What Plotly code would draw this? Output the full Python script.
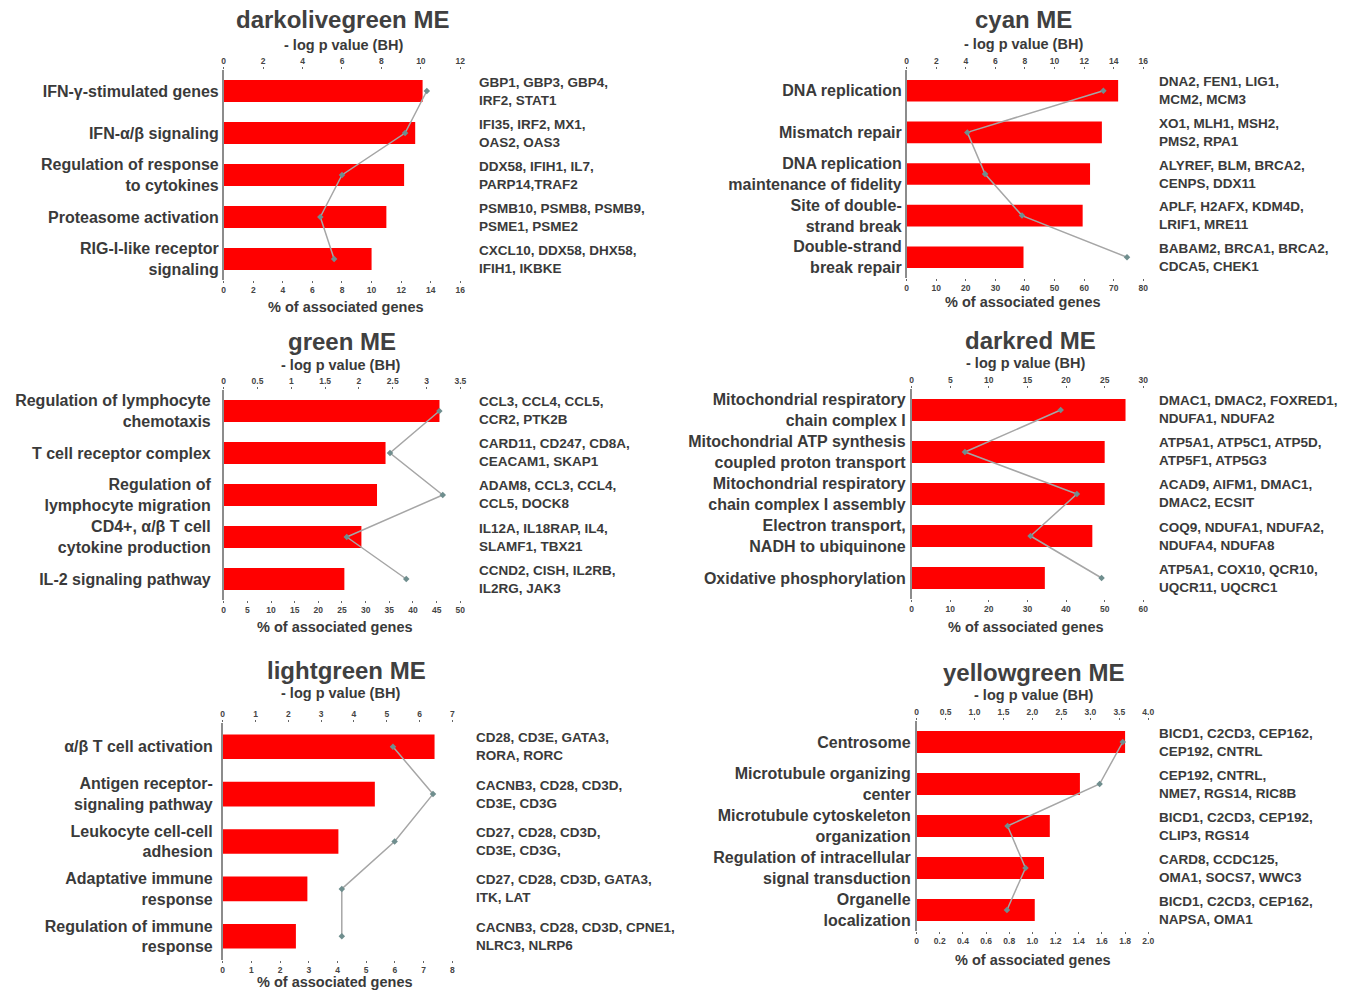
import plotly.graph_objects as go

W, H = 1368, 992

# ---------------- data ----------------
titles = ["darkolivegreen ME", "cyan ME", "green ME", "darkred ME", "lightgreen ME", "yellowgreen ME"]

terms_darkolivegreen = ["IFN-γ-stimulated genes", "IFN-α/β signaling", "Regulation of response<br>to cytokines",
                        "Proteasome activation", "RIG-I-like receptor<br>signaling"]
pct_darkolivegreen = [13.45, 12.95, 12.2, 11.0, 10.0]
logp_darkolivegreen = [10.3, 9.2, 6.0, 4.9, 5.6]
genes_darkolivegreen = ["GBP1, GBP3, GBP4,<br>IRF2, STAT1", "IFI35, IRF2, MX1,<br>OAS2, OAS3",
                        "DDX58, IFIH1, IL7,<br>PARP14,TRAF2", "PSMB10, PSMB8, PSMB9,<br>PSME1, PSME2",
                        "CXCL10, DDX58, DHX58,<br>IFIH1, IKBKE"]

terms_cyan = ["DNA replication", "Mismatch repair", "DNA replication<br>maintenance of fidelity",
              "Site of double-<br>strand break", "Double-strand<br>break repair"]
pct_cyan = [71.5, 66.0, 62.0, 59.5, 39.5]
logp_cyan = [13.3, 4.1, 5.3, 7.8, 14.9]
genes_cyan = ["DNA2, FEN1, LIG1,<br>MCM2, MCM3", "XO1, MLH1, MSH2,<br>PMS2, RPA1",
              "ALYREF, BLM, BRCA2,<br>CENPS, DDX11", "APLF, H2AFX, KDM4D,<br>LRIF1, MRE11",
              "BABAM2, BRCA1, BRCA2,<br>CDCA5, CHEK1"]

terms_green = ["Regulation of lymphocyte<br>chemotaxis", "T cell receptor complex", "Regulation of<br>lymphocyte migration",
               "CD4+, α/β T cell<br>cytokine production", "IL-2 signaling pathway"]
pct_green = [45.6, 34.2, 32.4, 29.1, 25.5]
logp_green = [3.19, 2.46, 3.24, 1.82, 2.70]
genes_green = ["CCL3, CCL4, CCL5,<br>CCR2, PTK2B", "CARD11, CD247, CD8A,<br>CEACAM1, SKAP1",
               "ADAM8, CCL3, CCL4,<br>CCL5, DOCK8", "IL12A, IL18RAP, IL4,<br>SLAMF1, TBX21",
               "CCND2, CISH, IL2RB,<br>IL2RG, JAK3"]

terms_darkred = ["Mitochondrial respiratory<br>chain complex I", "Mitochondrial ATP synthesis<br>coupled proton transport",
                 "Mitochondrial respiratory<br>chain complex I assembly", "Electron transport,<br>NADH to ubiquinone",
                 "Oxidative phosphorylation"]
pct_darkred = [55.4, 50.0, 50.0, 46.8, 34.5]
logp_darkred = [19.3, 6.9, 21.4, 15.4, 24.6]
genes_darkred = ["DMAC1, DMAC2, FOXRED1,<br>NDUFA1, NDUFA2", "ATP5A1, ATP5C1, ATP5D,<br>ATP5F1, ATP5G3",
                 "ACAD9, AIFM1, DMAC1,<br>DMAC2, ECSIT", "COQ9, NDUFA1, NDUFA2,<br>NDUFA4, NDUFA8",
                 "ATP5A1, COX10, QCR10,<br>UQCR11, UQCRC1"]

terms_lightgreen = ["α/β T cell activation", "Antigen receptor-<br>signaling pathway", "Leukocyte cell-cell<br>adhesion",
                    "Adaptative immune<br>response", "Regulation of immune<br>response"]
pct_lightgreen = [7.38, 5.30, 4.03, 2.95, 2.55]
logp_lightgreen = [5.19, 6.41, 5.24, 3.63, 3.63]
genes_lightgreen = ["CD28, CD3E, GATA3,<br>RORA, RORC", "CACNB3, CD28, CD3D,<br>CD3E, CD3G",
                    "CD27, CD28, CD3D,<br>CD3E, CD3G,", "CD27, CD28, CD3D, GATA3,<br>ITK, LAT",
                    "CACNB3, CD28, CD3D, CPNE1,<br>NLRC3, NLRP6"]

terms_yellowgreen = ["Centrosome", "Microtubule organizing<br>center", "Microtubule cytoskeleton<br>organization",
                     "Regulation of intracellular<br>signal transduction", "Organelle<br>localization"]
pct_yellowgreen = [1.80, 1.41, 1.15, 1.10, 1.02]
logp_yellowgreen = [3.56, 3.16, 1.57, 1.88, 1.56]
genes_yellowgreen = ["BICD1, C2CD3, CEP162,<br>CEP192, CNTRL", "CEP192, CNTRL,<br>NME7, RGS14, RIC8B",
                     "BICD1, C2CD3, CEP192,<br>CLIP3, RGS14", "CARD8, CCDC125,<br>OMA1, SOCS7, WWC3",
                     "BICD1, C2CD3, CEP162,<br>NAPSA, OMA1"]

# tick labels: top axis (-log p) and bottom axis (% of genes)
top_ticks_darkolivegreen = ["0", "2", "4", "6", "8", "10", "12"]
bot_ticks_darkolivegreen = ["0", "2", "4", "6", "8", "10", "12", "14", "16"]
top_ticks_cyan = ["0", "2", "4", "6", "8", "10", "12", "14", "16"]
bot_ticks_cyan = ["0", "10", "20", "30", "40", "50", "60", "70", "80"]
top_ticks_green = ["0", "0.5", "1", "1.5", "2", "2.5", "3", "3.5"]
bot_ticks_green = ["0", "5", "10", "15", "20", "25", "30", "35", "40", "45", "50"]
top_ticks_darkred = ["0", "5", "10", "15", "20", "25", "30"]
bot_ticks_darkred = ["0", "10", "20", "30", "40", "50", "60"]
top_ticks_lightgreen = ["0", "1", "2", "3", "4", "5", "6", "7"]
bot_ticks_lightgreen = ["0", "1", "2", "3", "4", "5", "6", "7", "8"]
top_ticks_yellowgreen = ["0", "0.5", "1.0", "1.5", "2.0", "2.5", "3.0", "3.5", "4.0"]
bot_ticks_yellowgreen = ["0", "0.2", "0.4", "0.6", "0.8", "1.0", "1.2", "1.4", "1.6", "1.8", "2.0"]

panels = [
    (terms_darkolivegreen, pct_darkolivegreen, logp_darkolivegreen, genes_darkolivegreen,
     top_ticks_darkolivegreen, bot_ticks_darkolivegreen),
    (terms_cyan, pct_cyan, logp_cyan, genes_cyan, top_ticks_cyan, bot_ticks_cyan),
    (terms_green, pct_green, logp_green, genes_green, top_ticks_green, bot_ticks_green),
    (terms_darkred, pct_darkred, logp_darkred, genes_darkred, top_ticks_darkred, bot_ticks_darkred),
    (terms_lightgreen, pct_lightgreen, logp_lightgreen, genes_lightgreen, top_ticks_lightgreen, bot_ticks_lightgreen),
    (terms_yellowgreen, pct_yellowgreen, logp_yellowgreen, genes_yellowgreen, top_ticks_yellowgreen, bot_ticks_yellowgreen),
]

# ---------------- layout geometry (pixels) ----------------
# plot box per panel: x0, x1, y_top, y_bottom
boxes = [
    (223, 461, 70, 280),
    (910, 1148, 70, 278),
    (223, 461, 390, 600),
    (915, 1148, 389, 599),
    (222, 453, 723, 960),
    (920, 1153, 721, 931),
]
title_pos = [(343, 20), (1028, 20), (342, 341), (1035, 340), (347, 670), (1038, 672)]
sub_pos = [(344, 45), (1028, 44), (340, 365), (1030, 363), (340, 693), (1038, 695)]
xlab_pos = [(346, 307), (1027, 302), (335, 627), (1030, 627), (335, 982), (1037, 960)]
gene_x = [478, 1162, 478, 1162, 475, 1162]
label_gap = [0, 0, 8, 1, 5, 1]


def fx(px):
    return px / W


def fy(py):
    return 1 - py / H


TXT = "#3a3a3a"
FONT = "Liberation Sans"

fig = go.Figure()
layout = {}
annotations = []

for i, (terms, pct, logp, genes, tticks, bticks) in enumerate(panels):
    n = i + 1
    kb, kt = 2 * n - 1, 2 * n
    xb = "x" if kb == 1 else f"x{kb}"
    xt = f"x{kt}"
    yy = "y" if n == 1 else f"y{n}"
    x0, x1, y0, y1 = boxes[i]

    # bars: % of associated genes (bottom axis)
    fig.add_trace(go.Bar(x=pct, y=terms, orientation="h", width=0.52,
                         marker=dict(color="#ff0000", line=dict(width=0)),
                         xaxis=xb, yaxis=yy, showlegend=False))
    # line: -log p value (top axis)
    fig.add_trace(go.Scatter(x=logp, y=terms, mode="lines+markers",
                             line=dict(color="#a6a6a6", width=1.5),
                             marker=dict(color="#6f8e8e", size=5, symbol="diamond"),
                             xaxis=xt, yaxis=yy, showlegend=False))

    tick_common = dict(showgrid=False, zeroline=False, showline=False,
                       ticks="outside", ticklen=2, tickwidth=1, tickcolor="#666",
                       tickfont=dict(family=FONT, size=8.5, color="#444", weight="bold"),
                       fixedrange=True)
    bvals = [float(t) for t in bticks]
    tvals = [float(t) for t in tticks]
    layout["xaxis" if kb == 1 else f"xaxis{kb}"] = dict(
        domain=[fx(x0), fx(x1)], anchor=yy, side="bottom",
        range=[0, bvals[-1]], tickvals=bvals, ticktext=bticks, **tick_common)
    layout[f"xaxis{kt}"] = dict(
        domain=[fx(x0), fx(x1)], anchor=yy, side="top", overlaying=xb,
        range=[0, tvals[-1]], tickvals=tvals, ticktext=tticks, **tick_common)
    layout["yaxis" if n == 1 else f"yaxis{n}"] = dict(
        domain=[fy(y1), fy(y0)], anchor=xb, type="category",
        range=[len(terms) - 0.5, -0.5], showgrid=False, zeroline=False,
        showline=True, linecolor="#8c8c8c", linewidth=1.5, ticks="",
        ticklabelstandoff=label_gap[i],
        tickfont=dict(family=FONT, size=16, color=TXT, weight="bold"), fixedrange=True)

    tx, ty = title_pos[i]
    annotations.append(dict(text=titles[i], x=fx(tx), y=fy(ty), xref="paper", yref="paper",
                            xanchor="center", yanchor="middle", showarrow=False,
                            font=dict(family=FONT, size=24, color="#404040", weight="bold")))
    sx, sy = sub_pos[i]
    annotations.append(dict(text="- log p value (BH)", x=fx(sx), y=fy(sy), xref="paper", yref="paper",
                            xanchor="center", yanchor="middle", showarrow=False,
                            font=dict(family=FONT, size=14.5, color=TXT, weight="bold")))
    lx, ly = xlab_pos[i]
    annotations.append(dict(text="% of associated genes", x=fx(lx), y=fy(ly), xref="paper", yref="paper",
                            xanchor="center", yanchor="middle", showarrow=False,
                            font=dict(family=FONT, size=14.5, color=TXT, weight="bold")))
    for j, g in enumerate(genes):
        annotations.append(dict(text=g, x=fx(gene_x[i]), y=j, xref="paper", yref=yy,
                                xanchor="left", yanchor="middle", align="left", showarrow=False,
                                font=dict(family=FONT, size=13.5, color=TXT, weight="bold")))

fig.update_layout(width=W, height=H, margin=dict(l=0, r=0, t=0, b=0),
                  paper_bgcolor="white", plot_bgcolor="white",
                  bargap=0.48, annotations=annotations, **layout)

fig.write_html("out.html")
